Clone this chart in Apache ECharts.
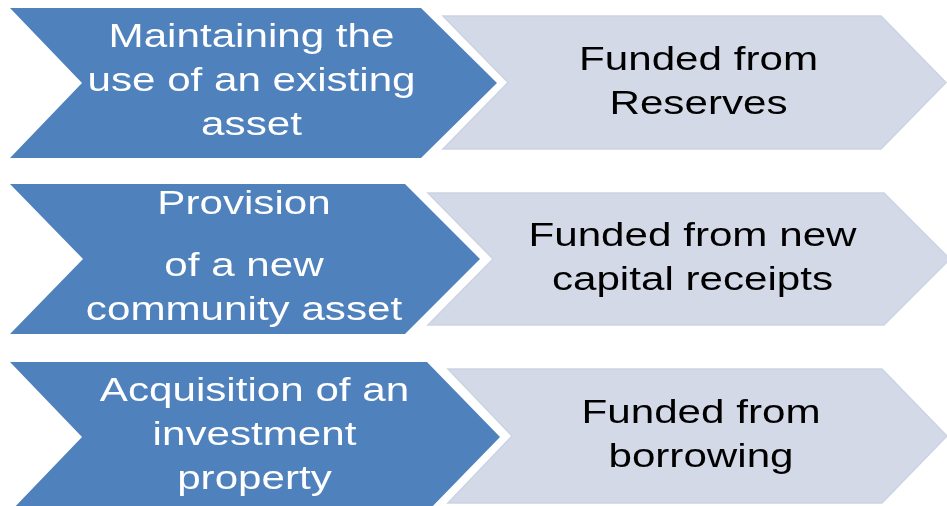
<!DOCTYPE html>
<html>
<head>
<meta charset="utf-8">
<script src="https://cdn.jsdelivr.net/npm/echarts@6/dist/echarts.min.js"></script>
<style>
  html, body { margin: 0; padding: 0; background: #fff; }
  #main { width: 947px; height: 506px; }
</style>
</head>
<body>
<div id="main"></div>
<script>
// row labels (left = blue chevrons, right = grey chevrons)
const sourceLabels = [
  'Maintaining the\nuse of an existing\nasset',
  'Provision\n\nof a new\ncommunity asset',
  'Acquisition of an\ninvestment\nproperty'
];
const fundingLabels = [
  'Funded from\nReserves',
  'Funded from new\ncapital receipts',
  'Funded from\nborrowing'
];

// chevron layout, in canvas pixels
const blueShapes = [
  { top: 8, bottom: 158, left: 10, notch: 82, corner: 421, tip: 497 },
  { top: 184, bottom: 334, left: 10, notch: 83, corner: 405, tip: 480 },
  { top: 362, bottom: 512, left: 10, notch: 82, corner: 427, tip: 500 }
];
const greyShapes = [
  { top: 16, bottom: 149, left: 443, notch: 508, corner: 881, tip: 946 },
  { top: 193, bottom: 325, left: 428, notch: 493, corner: 884, tip: 950 },
  { top: 369, bottom: 503, left: 448, notch: 512, corner: 882, tip: 947 }
];

const FONT = '"Liberation Sans", Arial, sans-serif';
const FONT_SIZE = 34;
const STRETCH = 1.24;
const LINE = 44;
const GAP = 18;

// text lines centered around cy; empty line = small paragraph gap
function textLines(api, text, cx, cy, color) {
  const lines = text.split('\n');
  const hs = lines.map(l => l === '' ? GAP : LINE);
  const total = hs.reduce((a, b) => a + b, 0);
  let y = cy - total / 2;
  const out = [];
  lines.forEach((l, k) => {
    if (l !== '') {
      const p = api.coord([cx, y + hs[k] / 2]);
      out.push({
        type: 'text',
        x: p[0], y: p[1],
        scaleX: STRETCH,
        style: {
          text: l, fill: color,
          fontSize: FONT_SIZE, fontFamily: FONT,
          align: 'center', verticalAlign: 'middle'
        }
      });
    }
    y += hs[k];
  });
  return out;
}

function chevron(api, s) {
  const mid = (s.top + s.bottom) / 2;
  return [
    [s.left, s.top], [s.corner, s.top], [s.tip, mid],
    [s.corner, s.bottom], [s.left, s.bottom], [s.notch, mid]
  ].map(pt => api.coord(pt));
}

let mychart = echarts.init(document.getElementById('main'));

var option = {
  animation: false,
  grid: { left: 0, right: 0, top: 0, bottom: 0 },
  xAxis: { type: 'value', min: 0, max: 947, show: false },
  yAxis: { type: 'value', min: 0, max: 506, inverse: true, show: false },
  series: [
    {
      type: 'custom',
      silent: true,
      data: sourceLabels.map((t, i) => [i]),
      renderItem: function (params, api) {
        const i = api.value(0);
        const s = blueShapes[i];
        const mid = (s.top + s.bottom) / 2;
        const cx = (s.notch + s.corner) / 2;
        return {
          type: 'group',
          children: [
            {
              type: 'polygon',
              shape: { points: chevron(api, s) },
              style: { fill: '#4f81bd' }
            }
          ].concat(textLines(api, sourceLabels[i], cx, mid - 1, '#ffffff'))
        };
      }
    },
    {
      type: 'custom',
      silent: true,
      data: fundingLabels.map((t, i) => [i]),
      renderItem: function (params, api) {
        const i = api.value(0);
        const s = greyShapes[i];
        const mid = (s.top + s.bottom) / 2;
        const cx = (s.notch + s.corner) / 2 + 4;
        return {
          type: 'group',
          children: [
            {
              type: 'polygon',
              shape: { points: chevron(api, s) },
              style: { fill: '#d3d9e7', stroke: '#cbd3e4', lineWidth: 1.5 }
            }
          ].concat(textLines(api, fundingLabels[i], cx, mid, '#000000'))
        };
      }
    }
  ]
};

mychart.setOption(option);

window.addEventListener('resize', () => {
  mychart.resize();
});
</script>
</body>
</html>
